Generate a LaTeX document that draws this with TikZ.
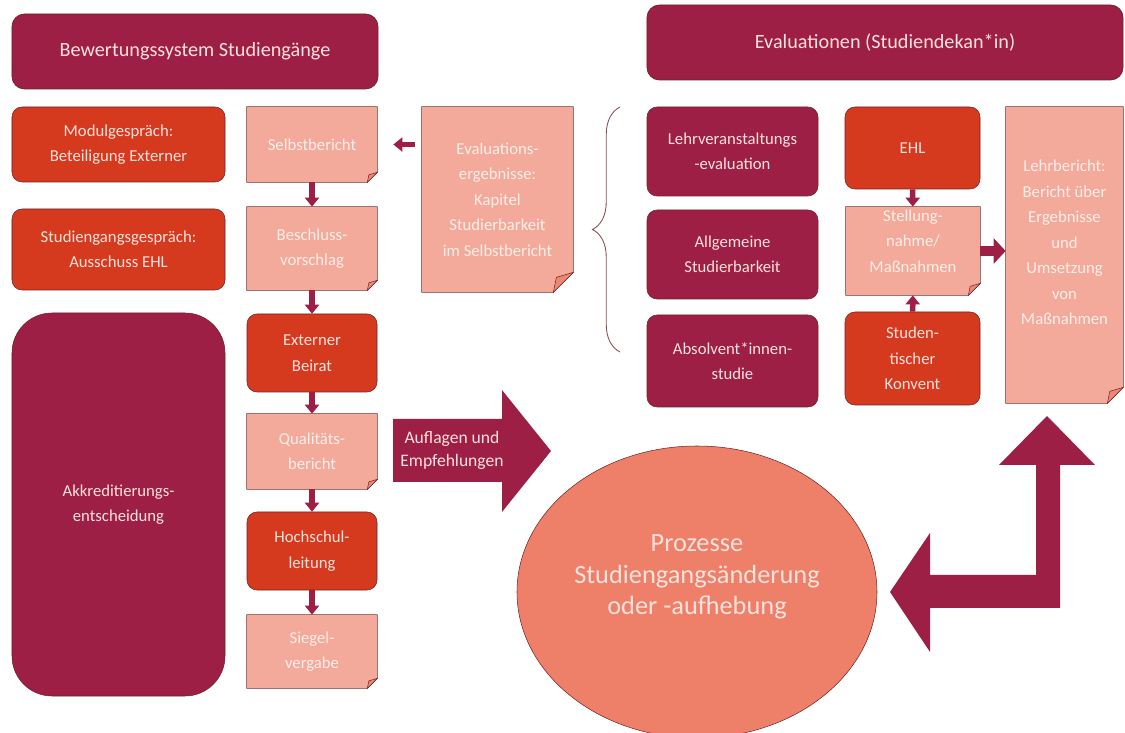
\documentclass[tikz,border=0pt]{standalone}
\usepackage{fontspec}
\setmainfont{Carlito}
\usetikzlibrary{arrows.meta,shapes.geometric,decorations.pathreplacing}

\definecolor{crimson}{RGB}{158,31,70}
\definecolor{rust}{RGB}{214,58,30}
\definecolor{salmon}{RGB}{243,170,154}
\definecolor{coral}{RGB}{238,128,106}
\definecolor{paletext}{RGB}{252,226,220}
\definecolor{doctext}{RGB}{254,238,234}
\definecolor{edge}{RGB}{110,35,40}

\begin{document}
\begin{tikzpicture}[x=0.2mm, y=-0.2mm,
    % Styles
    header/.style={draw=edge, line width=0.4pt, fill=crimson, rounded corners=2.5mm, text=paletext, font=\fontsize{11.5}{14}\selectfont, inner sep=0pt},
    body/.style={draw=edge, line width=0.3pt, rounded corners=2mm, text=paletext, align=center, inner sep=0pt, font=\fontsize{9.5}{14.5}\selectfont},
    dark/.style={body, fill=crimson},
    hot/.style={body, fill=rust},
    doc/.style={fill=salmon, text=doctext, align=center, inner sep=0pt, font=\fontsize{9.5}{14.5}\selectfont},
    flow/.style={-{Triangle[width=2.8mm,length=1.8mm]}, line width=1.1mm, crimson},
    bigflow/.style={-{Triangle[width=5mm,length=2.4mm]}, line width=2mm, crimson},
]
\useasboundingbox (0,0) rectangle (1125,733);

% Headers
\node[header, minimum width=73.2mm, minimum height=15mm] (bewertung) at (195,51.5) {Bewertungssystem Studiengänge};
\node[header, minimum width=95.2mm, minimum height=15mm] (evaluationen) at (885,42.5) {Evaluationen (Studiendekan*in)};

% LEFT: Gespraeche and Akkreditierung
\node[hot, minimum width=42.6mm, minimum height=15mm] (modul) at (118.5,144.5) {Modulgespräch:\\Beteiligung Externer};
\node[hot, minimum width=42.6mm, minimum height=16.2mm] (studgesp) at (118.5,249.5) {Studiengangsgespräch:\\Ausschuss EHL};
\node[dark, rounded corners=8mm, minimum width=42.6mm, minimum height=76.6mm] (akkr) at (118.5,504.5) {Akkreditierungs-\\entscheidung};

% Middle column: Ablauf
\node[doc, minimum width=26mm, minimum height=15mm] (selbst) at (312,144.5) {Selbstbericht};
\node[doc, minimum width=26mm, minimum height=16.6mm] (beschluss) at (312,248.5) {Beschluss-\\vorschlag};
\node[hot, minimum width=26mm, minimum height=15.6mm] (beirat) at (312,353) {Externer\\Beirat};
\node[doc, minimum width=26mm, minimum height=15mm] (quali) at (312,451.5) {Qualitäts-\\bericht};
\node[hot, minimum width=26mm, minimum height=15.6mm] (hsl) at (312,551) {Hochschul-\\leitung};
\node[doc, minimum width=26mm, minimum height=14.6mm] (siegel) at (312,651.5) {Siegel-\\vergabe};

% Evaluationsergebnisse
\node[doc, minimum width=30.2mm, minimum height=37mm] (evalerg) at (497.5,199.5) {Evaluations-\\ergebnisse:\\Kapitel\\Studierbarkeit\\im Selbstbericht};

% RIGHT: Evaluationen
\node[dark, minimum width=34.2mm, minimum height=17.8mm] (lvevaluation) at (732.5,151.5) {Lehrveranstaltungs\\-evaluation};
\node[dark, minimum width=34.2mm, minimum height=17.8mm] (allgemein) at (732.5,254.5) {Allgemeine\\Studierbarkeit};
\node[dark, minimum width=34.2mm, minimum height=18.4mm] (absolvent) at (732.5,361) {Absolvent*innen-\\studie};

\node[hot, minimum width=27mm, minimum height=16.4mm] (ehl) at (912.5,148) {EHL};
\node[doc, minimum width=26.8mm, minimum height=17.6mm, text depth=4mm] (stellung) at (913,251) {Stellung-\\nahme/\\Maßnahmen};
\node[hot, minimum width=27mm, minimum height=18.6mm] (konvent) at (912.5,358.5) {Studen-\\tischer\\Konvent};
\node[doc, minimum width=23.4mm, minimum height=59.2mm] (lehrbericht) at (1064.5,255) {Lehrbericht:\\Bericht über\\Ergebnisse\\und\\Umsetzung\\von\\Maßnahmen\\ \mbox{}};

% Dog-ears of the documents
\foreach \n/\s in {selbst/2, beschluss/2, quali/2, siegel/2, evalerg/4, stellung/2.4, lehrbericht/3.2} {
    \fill[white] (\n.south east) -- ([xshift={-\s*1mm}]\n.south east) -- ([yshift={\s*1mm}]\n.south east) -- cycle;
    \draw[edge, line width=0.3pt] (\n.north west) -- (\n.north east) -- ([yshift={\s*1mm}]\n.south east)
        -- ([xshift={-\s*1mm}]\n.south east) -- (\n.south west) -- cycle;
    \filldraw[fill=coral!85!salmon, draw=edge, line width=0.3pt] ([xshift={-\s*1mm}]\n.south east)
        -- ([yshift={\s*1mm}]\n.south east) -- ([shift={(-0.85*\s mm,0.75*\s mm)}]\n.south east) -- cycle;
}

% Flow arrows
\draw[flow] (selbst) -- (beschluss);
\draw[flow] (beschluss) -- (beirat);
\draw[flow] (beirat) -- (quali);
\draw[flow] (quali) -- (hsl);
\draw[flow] (hsl) -- (siegel);
\draw[flow, shorten <=1.4mm, shorten >=3.2mm] (evalerg.west |- selbst.east) -- (selbst.east);
\draw[flow] (ehl) -- (stellung);
\draw[flow] (konvent) -- (stellung);
\draw[bigflow] (stellung.east) -- (stellung.east -| lehrbericht.west);

% Brace
\draw[decorate, decoration={brace, amplitude=5.5mm}, edge!80, line width=0.5pt] (620,352) -- (620,107);

% Auflagen arrow
\fill[crimson] (393,419) -- (502,419) -- (502,390) -- (551,451) -- (502,512) -- (502,482) -- (393,482) -- cycle;
\node[text=paletext, align=center, font=\fontsize{10}{13}\selectfont] (auflagen) at (452,450) {Auflagen und\\Empfehlungen};

% Prozesse
\node[ellipse, fill=coral, draw=edge, line width=0.3pt, minimum width=72mm, minimum height=58.4mm] (prozesse) at (697,592) {};
\node[text=paletext, align=center, font=\fontsize{15}{18}\selectfont] (prozesstext) at ([yshift=3mm]prozesse.center) {Prozesse\\Studiengangsänderung\\oder -aufhebung};

% Return arrow
\fill[crimson] (1047,416) -- (1095,465) -- (1060,465) -- (1060,608) -- (930,608) -- (930,652) -- (890,592)
    -- (930,533) -- (930,575) -- (1036,575) -- (1036,465) -- (999,465) -- cycle;

\end{tikzpicture}
\end{document}
